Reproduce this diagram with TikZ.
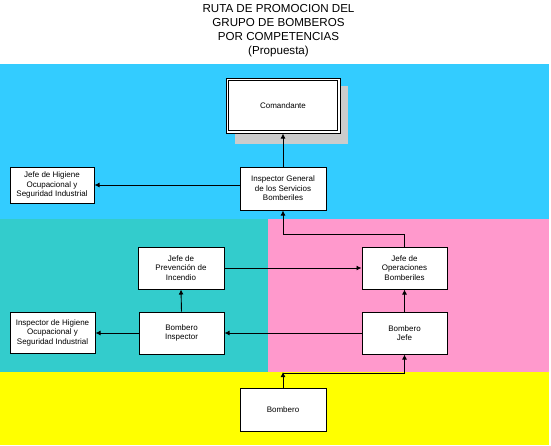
\documentclass[tikz,border=0pt]{standalone}
\usepackage{fontspec}
\setmainfont{Liberation Sans}
\usetikzlibrary{arrows.meta}
\definecolor{bandblue}{HTML}{33CCFF}
\definecolor{bandteal}{HTML}{33CCCC}
\definecolor{bandpink}{HTML}{FF99CC}
\definecolor{bandyellow}{HTML}{FFFF00}
\definecolor{shadowgray}{HTML}{CCCCCC}
\tikzset{
  boxfont/.style={font=\fontsize{8}{9.5}\selectfont},
  box/.style={draw=black, line width=1pt, fill=white, inner sep=0pt, align=center, boxfont},
  conn/.style={draw=black, line width=0.9pt},
  arr/.style={conn, -{Latex[length=5pt,width=5pt]}}
}
\begin{document}
\begin{tikzpicture}[x=1pt,y=-1pt]
\useasboundingbox (0,0) rectangle (551,445);
\fill[white] (0,0) rectangle (551,445);
% bands
\fill[bandblue] (0,64) rectangle (549,219);
\fill[bandteal] (0,219) rectangle (268,372);
\fill[bandpink] (268,219) rectangle (549,372);
\fill[bandyellow] (0,372) rectangle (549,445);
% title
\node[align=center, font=\fontsize{11.6}{14}\selectfont] (title) at (278.5,31)
  {RUTA DE PROMOCION DEL\\GRUPO DE BOMBEROS\\POR COMPETENCIAS\\(Propuesta)};
% Comandante with shadow and double border
\fill[shadowgray] (235,86) rectangle (348,144);
\node[box, minimum width=114pt, minimum height=55pt] (cmd) at (283,105.5) {};
\draw[line width=1pt] ([shift={(3pt,-3pt)}]cmd.north west) rectangle ([shift={(-3pt,3pt)}]cmd.south east);
\node[boxfont] (cmdt) at (cmd.center) {Comandante};
% other boxes
\node[box, minimum width=84pt, minimum height=36pt] (jhig) at (52,185)
  {Jefe de Higiene\\Ocupacional y\\Seguridad Industrial};
\node[box, minimum width=86pt, minimum height=43pt] (insg) at (283,188.5)
  {Inspector General\\de los Servicios\\Bomberiles};
\node[box, minimum width=86pt, minimum height=42pt] (prev) at (181,268)
  {Jefe de\\Prevención de\\Incendio};
\node[box, minimum width=85pt, minimum height=42pt] (oper) at (404.5,268)
  {Jefe de\\Operaciones\\Bomberiles};
\node[box, minimum width=85pt, minimum height=41pt] (ihig) at (52.5,332.5)
  {Inspector de Higiene\\Ocupacional y\\Seguridad Industrial};
\node[box, minimum width=85pt, minimum height=42pt] (binsp) at (181.5,333)
  {Bombero\\Inspector};
\node[box, minimum width=85pt, minimum height=42pt] (bjefe) at (404.5,333)
  {Bombero\\Jefe};
\node[box, minimum width=86pt, minimum height=43pt] (bomb) at (283,409.5)
  {Bombero};
% connectors
\coordinate (c1) at (404.5,234);
\coordinate (c2) at (283,234);
\coordinate (c3) at (283,372);
\coordinate (c4) at (283,373);
\coordinate (c5) at (404.5,373);
\draw[arr] (insg.north) -- (cmd.south);
\draw[arr] (insg.west |- jhig.east) -- (jhig.east);
\draw[arr] (prev.east) -- (oper.west);
\draw[arr] (oper.north) -- (c1) -- (c2) -- (insg.south);
\draw[arr] (binsp.north) -- (prev.south);
\draw[arr] (bjefe.west) -- (binsp.east);
\draw[arr] (binsp.west) -- (ihig.east |- binsp.west);
\draw[arr] (bjefe.north) -- (oper.south);
\draw[arr] (bomb.north) -- (c3);
\draw[arr] (c4) -- (c5) -- (bjefe.south);
\end{tikzpicture}
\end{document}
